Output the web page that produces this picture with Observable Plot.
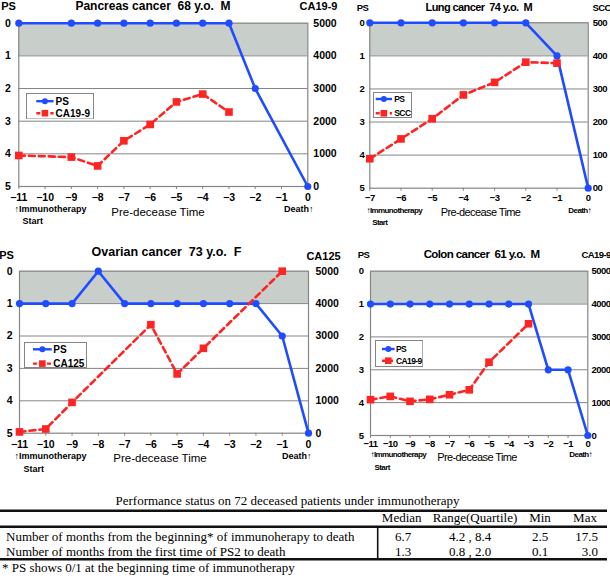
<!DOCTYPE html>
<html>
<head>
<meta charset="utf-8">
<script src="https://cdn.jsdelivr.net/npm/d3@7"></script>
<script src="https://cdn.jsdelivr.net/npm/@observablehq/plot@0.6"></script>
<style>
  body { margin: 0; background: #fff; }
  #root { position: relative; width: 610px; height: 578px; overflow: hidden; background: #fff; }
  #root > svg { position: absolute; }
</style>
</head>
<body>
<div id="root"></div>
<script>
// ---------------- DATA ----------------
const psTicks = [0, 1, 2, 3, 4, 5];
const bandPS = [0, 1];

// Pancreas cancer
const pancreasTitle = "Pancreas cancer\u00a0\u00a068 y.o.\u00a0\u00a0M";
const pancreasXTicks = [-11, -10, -9, -8, -7, -6, -5, -4, -3, -2, -1, 0];
const pancreasPSTime = [-11, -9, -8, -7, -6, -5, -4, -3, -2, 0];
const pancreasPS = [0, 0, 0, 0, 0, 0, 0, 0, 2, 5];
const pancreasCA199Time = [-11, -9, -8, -7, -6, -5, -4, -3];
const pancreasCA199 = [950, 900, 630, 1400, 1900, 2590, 2830, 2280];
const pancreasRightLabels = ["5000", "4000", "3000", "2000", "1000", "0"];

// Lung cancer
const lungTitle = "Lung cancer\u00a0\u00a074 y.o.\u00a0\u00a0M";
const lungXTicks = [-7, -6, -5, -4, -3, -2, -1, 0];
const lungPSTime = [-7, -6, -5, -4, -3, -2, -1, 0];
const lungPS = [0, 0, 0, 0, 0, 0, 1, 5];
const lungSCCTime = [-7, -6, -5, -4, -3, -2, -1];
const lungSCC = [89, 149, 210, 282, 320, 381, 378];
const lungRightLabels = ["500", "400", "300", "200", "100", "00"];

// Ovarian cancer
const ovarianTitle = "Ovarian cancer\u00a0\u00a073 y.o.\u00a0\u00a0F";
const ovarianXTicks = [-11, -10, -9, -8, -7, -6, -5, -4, -3, -2, -1, 0];
const ovarianPSTime = [-11, -10, -9, -8, -7, -6, -5, -4, -3, -2, -1, 0];
const ovarianPS = [1, 1, 1, 0, 1, 1, 1, 1, 1, 1, 2, 5];
const ovarianCA125Time = [-11, -10, -9, -6, -5, -4, -1];
const ovarianCA125 = [40, 130, 950, 3350, 1830, 2620, 5000];
const ovarianRightLabels = ["5000", "4000", "3000", "2000", "1000", "0"];

// Colon cancer
const colonTitle = "Colon cancer\u00a0\u00a061 y.o.\u00a0\u00a0M";
const colonXTicks = [-11, -10, -9, -8, -7, -6, -5, -4, -3, -2, -1, 0];
const colonPSTime = [-11, -10, -9, -8, -7, -6, -5, -4, -3, -2, -1, 0];
const colonPS = [1, 1, 1, 1, 1, 1, 1, 1, 1, 3, 3, 5];
const colonCA199Time = [-11, -10, -9, -8, -7, -6, -5, -3];
const colonCA199 = [1090, 1190, 1040, 1100, 1240, 1390, 2230, 3400];
const colonRightLabels = ["5000", "4000", "3000", "2000", "1000", "0"];

// Table
const tableTitle = "Performance status on 72 deceased patients under immunotherapy";
const tableHeaders = ["Median", "Range(Quartile)", "Min", "Max"];
const tableRowLabels = [
  "Number of months from the beginning* of immunoherapy to death",
  "Number of months from the first time of PS2 to death"
];
const tableMedian = ["6.7", "1.3"];
const tableRange = ["4.2 , 8.4", "0.8 , 2.0"];
const tableMin = ["2.5", "0.1"];
const tableMax = ["17.5", "3.0"];
const tableFootnote = "* PS shows 0/1 at the beginning time of immunotherapy";

// ---------------- STYLE ----------------
const FONT = '"Liberation Sans", Arial, sans-serif';
const SERIF = '"Liberation Serif", "Times New Roman", serif';
const BLUE = "#1f4cff";
const RED = "#ff2424";
const BAND = "#c8cec9";
const GRID = "#858585";

const intFmt = d => (d < 0 ? "\u2212" + Math.abs(d) : String(d));

const root = document.getElementById("root");

function buildPanel(p) {
  const L = p.layout;
  const ml = L.x0 - L.left, mr = L.left + L.width - L.x1;
  const mt = L.y0 - L.top, mb = L.top + L.height - L.y1;
  const psMax = psTicks[psTicks.length - 1];
  const psData = p.psTime.map((t, i) => ({t, v: p.ps[i]}));
  const mkData = p.mkTime.map((t, i) => ({t, y: psMax - p.mk[i] / p.mkMax * psMax}));
  const xd = d3.extent(p.xTicks);
  const txt = (s, X, Y, o) => Plot.text([s], {
    frameAnchor: "top-left", dx: X - L.x0, dy: Y - L.y0,
    lineAnchor: "middle", fill: "black", ...o
  });
  const T = p.texts;
  const svg = Plot.plot({
    width: L.width, height: L.height,
    marginLeft: ml, marginRight: mr, marginTop: mt, marginBottom: mb,
    x: {domain: xd},
    y: {domain: [0, psMax], reverse: true},
    style: {fontFamily: FONT, fontWeight: "bold", background: "transparent", overflow: "visible", letterSpacing: L.ls, color: "black"},
    marks: [
      Plot.rect([bandPS], {x1: () => xd[0], x2: () => xd[1], y1: d => d[0], y2: d => d[1], fill: BAND}),
      Plot.ruleY(psTicks.slice(1, -1), {stroke: GRID, strokeWidth: 1}),
      Plot.frame({stroke: GRID, strokeWidth: 1.2}),
      Plot.axisX({ticks: p.xTicks, tickSize: 3, tickPadding: L.xPad, fontSize: L.fs, stroke: GRID, label: null, tickFormat: intFmt}),
      Plot.axisY({anchor: "left", ticks: psTicks, tickSize: 0, tickPadding: L.lPad, fontSize: L.fs, label: null, tickFormat: intFmt}),
      Plot.axisY({anchor: "right", ticks: psTicks, tickSize: 0, tickPadding: L.rPad, fontSize: L.fs,
                  tickFormat: d => p.rightLabels[psTicks.indexOf(d)], label: null}),
      Plot.line(psData, {x: "t", y: "v", stroke: BLUE, strokeWidth: 2.6}),
      Plot.dot(psData, {x: "t", y: "v", r: 3.6, fill: BLUE, symbol: "circle"}),
      Plot.line(mkData, {x: "t", y: "y", stroke: RED, strokeWidth: 2.6, strokeDasharray: "6,4"}),
      Plot.dot(mkData, {x: "t", y: "y", r: 4.3, fill: RED, symbol: "square"}),
      txt(p.title, T.title[0], T.title[1], {textAnchor: "middle", fontSize: L.titleFs}),
      txt("PS", T.ps[0], T.ps[1], {textAnchor: "middle", fontSize: L.labFs}),
      txt(p.mkName, T.mk[0], T.mk[1], {textAnchor: T.mk[2], fontSize: L.labFs}),
      txt("\u2191Immunotherapy", T.imm[0], T.imm[1], {textAnchor: "start", fontSize: L.smallFs}),
      txt("Start", T.start[0], T.start[1], {textAnchor: "start", fontSize: L.smallFs}),
      txt("Pre-decease Time", T.pdt[0], T.pdt[1], {textAnchor: "middle", fontSize: L.pdtFs, fontWeight: "normal"}),
      txt("Death\u2191", T.death[0], T.death[1], {textAnchor: "end", fontSize: L.smallFs})
    ]
  });
  svg.style.left = L.left + "px";
  svg.style.top = L.top + "px";
  root.appendChild(svg);

  // legend box
  const G = p.legend;
  const lg = d3.select(root).append("svg")
    .attr("width", G.x1 - G.x0 + 2).attr("height", G.y1 - G.y0 + 2)
    .style("left", (G.x0 - 1) + "px").style("top", (G.y0 - 1) + "px")
    .style("font-family", FONT).style("font-weight", "bold")
    .style("letter-spacing", L.ls);
  const ox = -G.x0 + 1, oy = -G.y0 + 1;
  lg.append("rect").attr("x", 0.5).attr("y", 0.5)
    .attr("width", G.x1 - G.x0 + 1).attr("height", G.y1 - G.y0 + 1)
    .attr("fill", "white").attr("stroke", GRID);
  const items = [
    {label: "PS", color: BLUE, dash: null, y: G.r1},
    {label: p.mkName, color: RED, dash: "4,3", y: G.r2}
  ];
  items.forEach((it, i) => {
    lg.append("line").attr("x1", G.l0 + ox).attr("x2", G.l1 + ox)
      .attr("y1", it.y + oy).attr("y2", it.y + oy)
      .attr("stroke", it.color).attr("stroke-width", 2.4)
      .attr("stroke-dasharray", it.dash);
    const cx = (G.l0 + G.l1) / 2 + ox;
    if (i === 0) lg.append("circle").attr("cx", cx).attr("cy", it.y + oy).attr("r", 3).attr("fill", it.color);
    else lg.append("rect").attr("x", cx - 3.3).attr("y", it.y + oy - 3.3).attr("width", 6.6).attr("height", 6.6).attr("fill", it.color);
    lg.append("text").attr("x", G.tx + ox).attr("y", it.y + oy).attr("dy", "0.35em")
      .attr("font-size", G.fs).text(it.label);
  });
}

buildPanel({
  title: pancreasTitle, mkName: "CA19-9", xTicks: pancreasXTicks,
  psTime: pancreasPSTime, ps: pancreasPS, mkTime: pancreasCA199Time, mk: pancreasCA199, mkMax: 5000,
  rightLabels: pancreasRightLabels,
  layout: {left: 0, top: 0, width: 350, height: 240, x0: 18.3, x1: 307.3, y0: 22.7, y1: 186,
           xPad: 4.4, lPad: 8, rPad: 5.5, fs: 10.5, titleFs: 12, labFs: 11, smallFs: 9, pdtFs: 11.5, ls: "0px"},
  texts: {title: [152.5, 6], ps: [8, 6], mk: [318, 6, "middle"], imm: [14, 209], start: [22, 220.5],
          pdt: [157.5, 212], death: [313, 209]},
  legend: {x0: 26.7, x1: 92.7, y0: 93.5, y1: 118, l0: 36, l1: 53.3, r1: 100.7, r2: 112.7, tx: 55.3, fs: 10}
});

buildPanel({
  title: lungTitle, mkName: "SCC", xTicks: lungXTicks,
  psTime: lungPSTime, ps: lungPS, mkTime: lungSCCTime, mk: lungSCC, mkMax: 500,
  rightLabels: lungRightLabels,
  layout: {left: 345, top: 0, width: 265, height: 240, x0: 369.3, x1: 587.7, y0: 22.3, y1: 187.7,
           xPad: 2.8, lPad: 5.5, rPad: 4.6, fs: 9.5, titleFs: 11, labFs: 9.5, smallFs: 8, pdtFs: 11, ls: "-0.6px"},
  texts: {title: [478.3, 7], ps: [362, 7], mk: [592, 7, "start"], imm: [366, 210], start: [371.7, 221.5],
          pdt: [480, 212], death: [590.5, 210]},
  legend: {x0: 374, x1: 411, y0: 93, y1: 117, l0: 375.7, l1: 392, r1: 99, r2: 113.3, tx: 394.3, fs: 8.5}
});

buildPanel({
  title: ovarianTitle, mkName: "CA125", xTicks: ovarianXTicks,
  psTime: ovarianPSTime, ps: ovarianPS, mkTime: ovarianCA125Time, mk: ovarianCA125, mkMax: 5000,
  rightLabels: ovarianRightLabels,
  layout: {left: 0, top: 240, width: 350, height: 240, x0: 19, x1: 308, y0: 270.7, y1: 432.7,
           xPad: 4.7, lPad: 7, rPad: 7, fs: 10.5, titleFs: 12.5, labFs: 11, smallFs: 9, pdtFs: 11.5, ls: "0px"},
  texts: {title: [166, 251.7], ps: [6, 255], mk: [323, 255.7, "middle"], imm: [14, 456], start: [23, 468.7],
          pdt: [159.5, 458.3], death: [311, 456]},
  legend: {x0: 25, x1: 86, y0: 342.7, y1: 366.7, l0: 33, l1: 51.7, r1: 349, r2: 363.3, tx: 53.3, fs: 10}
});

buildPanel({
  title: colonTitle, mkName: "CA19-9", xTicks: colonXTicks,
  psTime: colonPSTime, ps: colonPS, mkTime: colonCA199Time, mk: colonCA199, mkMax: 5000,
  rightLabels: colonRightLabels,
  layout: {left: 345, top: 240, width: 265, height: 240, x0: 370, x1: 587.3, y0: 270.7, y1: 435,
           xPad: 1.6, lPad: 7, rPad: 3.8, fs: 9.5, titleFs: 11.5, labFs: 9.5, smallFs: 8, pdtFs: 11, ls: "-0.6px"},
  texts: {title: [481, 254], ps: [363, 254], mk: [581, 254, "start"], imm: [370, 454], start: [374, 467],
          pdt: [476.5, 456.7], death: [591.5, 454]},
  legend: {x0: 375.7, x1: 422, y0: 341, y1: 366, l0: 381.7, l1: 394.3, r1: 349, r2: 360.7, tx: 395.7, fs: 8.5}
});

// ---------------- TABLE ----------------
(function buildTable() {
  const top = 480;
  const t = d3.select(root).append("svg")
    .attr("width", 610).attr("height", 98)
    .style("left", "0px").style("top", top + "px")
    .style("font-family", SERIF).style("font-size", "13px");
  const Y = v => v - top;
  t.append("text").attr("x", 287.5).attr("y", Y(500.5)).attr("dy", "0.35em")
    .attr("text-anchor", "middle").text(tableTitle);
  [510.7, 526.7, 559.3].forEach(y =>
    t.append("line").attr("x1", 0).attr("x2", 607).attr("y1", Y(y)).attr("y2", Y(y))
      .attr("stroke", "#111").attr("stroke-width", 2.4));
  t.append("line").attr("x1", 377.7).attr("x2", 377.7).attr("y1", Y(526.7)).attr("y2", Y(559.3))
    .attr("stroke", "#111").attr("stroke-width", 1.6);
  const headX = [401.7, 475, 540, 585];
  tableHeaders.forEach((h, i) =>
    t.append("text").attr("x", headX[i]).attr("y", Y(517.5)).attr("dy", "0.35em")
      .attr("text-anchor", "middle").text(h));
  const rowY = [536.5, 551.5];
  const cols = [tableMedian, tableRange, tableMin];
  const colX = [403, 470, 540];
  tableRowLabels.forEach((lab, r) => {
    t.append("text").attr("x", 6).attr("y", Y(rowY[r])).attr("dy", "0.35em").text(lab);
    cols.forEach((c, j) =>
      t.append("text").attr("x", colX[j]).attr("y", Y(rowY[r])).attr("dy", "0.35em")
        .attr("text-anchor", "middle").text(c[r]));
    t.append("text").attr("x", 598).attr("y", Y(rowY[r])).attr("dy", "0.35em")
      .attr("text-anchor", "end").text(tableMax[r]);
  });
  t.append("text").attr("x", 2).attr("y", Y(567.5)).attr("dy", "0.35em").text(tableFootnote);
})();
</script>
</body>
</html>
